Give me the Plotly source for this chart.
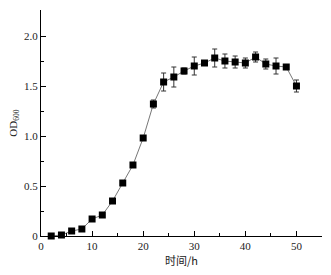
import plotly.graph_objects as go

time_h = [2, 4, 6, 8, 10, 12, 14, 16, 18, 20, 22, 24, 26, 28, 30, 32, 34, 36, 38, 40, 42, 44, 46, 48, 50]
od600 = [0.00, 0.01, 0.05, 0.07, 0.17, 0.21, 0.35, 0.53, 0.71, 0.98, 1.32, 1.54, 1.59, 1.65, 1.70, 1.73,
         1.78, 1.75, 1.74, 1.73, 1.79, 1.72, 1.70, 1.69, 1.50]
od_err = [0.0, 0.0, 0.0, 0.0, 0.01, 0.01, 0.01, 0.01, 0.01, 0.01, 0.04, 0.09, 0.10, 0.03, 0.09, 0.01,
          0.09, 0.07, 0.06, 0.05, 0.05, 0.05, 0.08, 0.02, 0.06]

x_ticks = [0, 10, 20, 30, 40, 50]
x_ticktext = ["0", "10", "20", "30", "40", "50"]
y_ticks = [0, 0.5, 1.0, 1.5, 2.0]
y_ticktext = ["0", "0.5", "1.0", "1.5", "2.0"]

serif = "Liberation Serif, Times New Roman, serif"

fig = go.Figure()
fig.add_trace(go.Scatter(
    x=time_h, y=od600,
    mode="lines+markers",
    line=dict(color="#777777", width=1),
    marker=dict(symbol="square", size=7, color="black"),
    error_y=dict(type="data", array=od_err, visible=True, color="#333333", thickness=1, width=2.5),
    cliponaxis=False,
    showlegend=False,
))

fig.update_layout(
    width=331, height=275,
    margin=dict(l=41, r=9, t=10, b=39),
    plot_bgcolor="white", paper_bgcolor="white",
    font=dict(family=serif, size=11, color="#222222"),
    xaxis=dict(
        range=[0, 55], showline=True, linecolor="black", linewidth=1,
        ticks="inside", ticklen=5, tickcolor="black",
        tickvals=x_ticks, ticktext=x_ticktext,
        minor=dict(dtick=5, tick0=0, ticks="inside", ticklen=3, tickcolor="black"),
        showgrid=False, zeroline=False, automargin=False,
        title=dict(text="时间/h", font=dict(family="Noto Sans CJK SC, " + serif, size=11), standoff=2),
    ),
    yaxis=dict(
        range=[0, 2.26], showline=True, linecolor="black", linewidth=1,
        ticks="inside", ticklen=5, tickcolor="black",
        tickvals=y_ticks, ticktext=y_ticktext,
        minor=dict(dtick=0.25, tick0=0, ticks="inside", ticklen=3, tickcolor="black"),
        showgrid=False, zeroline=False, automargin=False,
        title=dict(text="OD<sub>600</sub>", font=dict(family=serif, size=11), standoff=4),
    ),
)

fig.write_html("out.html", config={"displayModeBar": False},
               post_script="document.body.style.margin='0';document.body.style.overflow='hidden';")
